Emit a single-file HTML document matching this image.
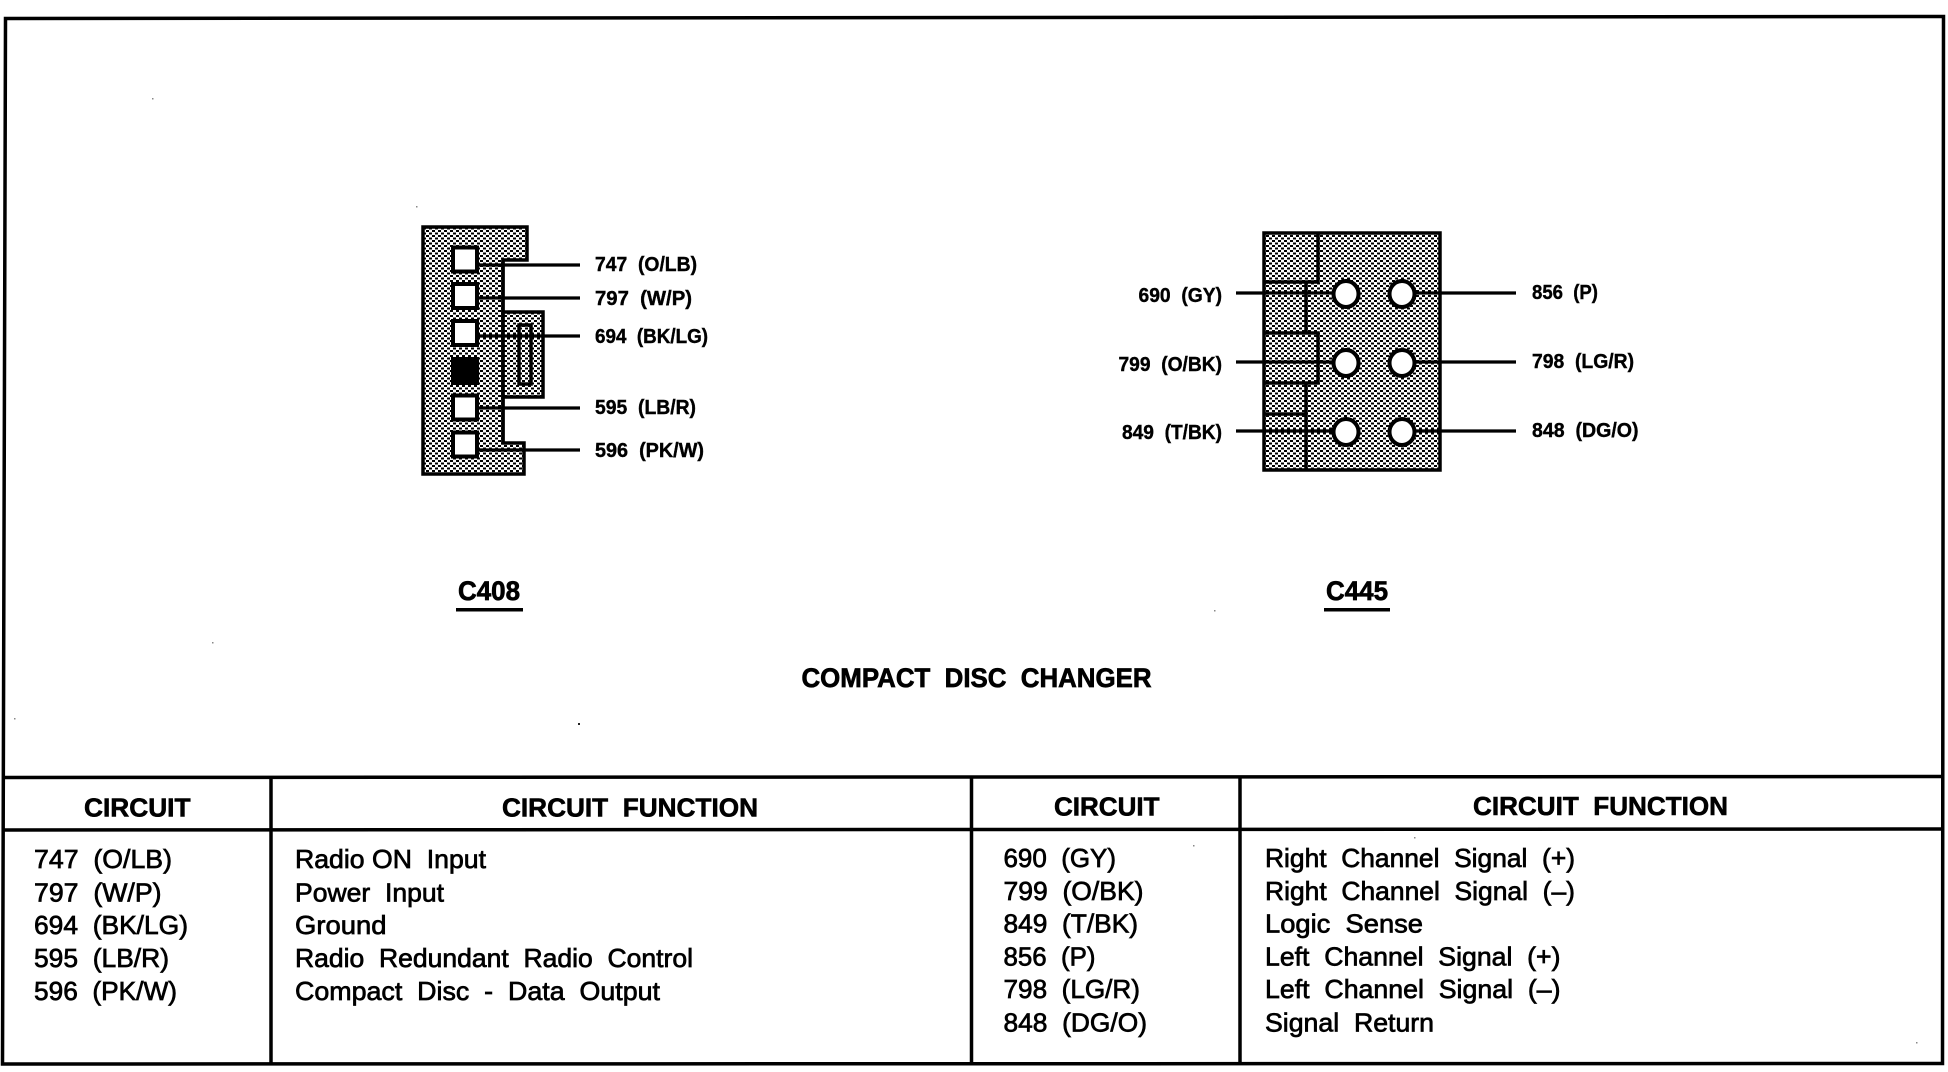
<!DOCTYPE html>
<html>
<head>
<meta charset="utf-8">
<title>Compact Disc Changer</title>
<style>
html,body{margin:0;padding:0;background:#fff;width:1948px;height:1072px;overflow:hidden}
svg{display:block}
text{font-family:"Liberation Sans",Arial,sans-serif;fill:#000;white-space:pre}
.s{font-size:20px;font-weight:bold;stroke:#000;stroke-width:.4}
.t{font-size:26px;stroke:#000;stroke-width:.7}
.h{font-size:26px;font-weight:bold;stroke:#000;stroke-width:.6}
.b{font-size:27px;font-weight:bold;stroke:#000;stroke-width:.7}
.l{stroke:#000;fill:none}
</style>
</head>
<body>
<svg xmlns="http://www.w3.org/2000/svg" width="1948" height="1072" viewBox="0 0 1948 1072">
<defs>
<pattern id="d" width="6" height="5" patternUnits="userSpaceOnUse">
<rect width="6" height="5" fill="#fff"/>
<rect x="0" y="0" width="3" height="2" fill="#000"/>
<rect x="3" y="2.5" width="3" height="2" fill="#000"/>
</pattern>
</defs>
<rect width="1948" height="1072" fill="#fff"/>

<!-- Frame -->
<path class="l" stroke-width="3.5" d="M5.5 18.5 L1943.5 16.5 L1942.5 1063.5 L2.5 1064 Z"/>
<path class="l" stroke-width="3.5" d="M3 777.5 L1943 776.5 M3 830 L1943 829 M271 777 V1064 M971.5 777 V1064 M1240 777 V1064"/>

<!-- C408 connector -->
<polygon points="423,227 527,227 527,260 503,260 503,443 524,443 524,474 423,474" fill="url(#d)" stroke="#000" stroke-width="3.5"/>
<rect x="503" y="312" width="40" height="85" fill="url(#d)" stroke="#000" stroke-width="3.5"/>
<rect x="519" y="325" width="12" height="59" fill="url(#d)" stroke="#000" stroke-width="3.5"/>
<line x1="503" y1="260" x2="503" y2="443" stroke="#000" stroke-width="3.5"/>
<g fill="#fff" stroke="#000" stroke-width="4">
<rect x="453" y="247.5" width="24" height="24"/>
<rect x="453" y="284" width="24" height="24"/>
<rect x="453" y="321" width="24" height="24"/>
<rect x="453" y="395.5" width="24" height="24"/>
<rect x="453" y="432.5" width="24" height="24"/>
</g>
<rect x="451" y="357" width="28" height="28" fill="#000"/>
<path class="l" stroke-width="3.2" d="M477 265 H580 M477 298 H580 M477 336 H580 M477 408 H580 M477 450 H580"/>
<text class="s" x="595" y="271" textLength="102" lengthAdjust="spacingAndGlyphs">747  (O/LB)</text>
<text class="s" x="595" y="305" textLength="97" lengthAdjust="spacingAndGlyphs">797  (W/P)</text>
<text class="s" x="595" y="343" textLength="113" lengthAdjust="spacingAndGlyphs">694  (BK/LG)</text>
<text class="s" x="595" y="414" textLength="101" lengthAdjust="spacingAndGlyphs">595  (LB/R)</text>
<text class="s" x="595" y="457" textLength="109" lengthAdjust="spacingAndGlyphs">596  (PK/W)</text>

<!-- C445 connector -->
<rect x="1264" y="233" width="176" height="237" fill="url(#d)" stroke="#000" stroke-width="3.5"/>
<path class="l" stroke-width="3.5" d="M1318 233 V282 H1264 M1306 282 V333 M1264 333 H1318 V383 H1264 M1306 383 V470 M1264 414 H1306"/>
<path class="l" stroke-width="3.2" d="M1236 293 H1334 M1236 362 H1334 M1236 431 H1334 M1414 293 H1516 M1414 362 H1516 M1414 431 H1516"/>
<g fill="#fff" stroke="#000" stroke-width="4">
<ellipse cx="1346" cy="294" rx="12.5" ry="13"/>
<ellipse cx="1402" cy="294" rx="12.5" ry="13"/>
<ellipse cx="1346" cy="363" rx="12.5" ry="13"/>
<ellipse cx="1402" cy="363" rx="12.5" ry="13"/>
<ellipse cx="1346" cy="432" rx="12.5" ry="13"/>
<ellipse cx="1402" cy="432" rx="12.5" ry="13"/>
</g>
<text class="s" x="1138.5" y="302" textLength="83.5" lengthAdjust="spacingAndGlyphs">690  (GY)</text>
<text class="s" x="1118.5" y="371" textLength="103.5" lengthAdjust="spacingAndGlyphs">799  (O/BK)</text>
<text class="s" x="1122" y="439" textLength="100" lengthAdjust="spacingAndGlyphs">849  (T/BK)</text>
<text class="s" x="1532" y="299" textLength="66" lengthAdjust="spacingAndGlyphs">856  (P)</text>
<text class="s" x="1532" y="368" textLength="102" lengthAdjust="spacingAndGlyphs">798  (LG/R)</text>
<text class="s" x="1532" y="437" textLength="106.5" lengthAdjust="spacingAndGlyphs">848  (DG/O)</text>

<!-- Titles -->
<text class="b" x="458" y="600" textLength="62" lengthAdjust="spacingAndGlyphs">C408</text>
<rect x="456" y="608" width="67" height="3.5" fill="#000"/>
<text class="b" x="1326" y="600" textLength="62" lengthAdjust="spacingAndGlyphs">C445</text>
<rect x="1324" y="608" width="66" height="3.5" fill="#000"/>
<text class="b" x="801.5" y="687" textLength="350" lengthAdjust="spacingAndGlyphs">COMPACT  DISC  CHANGER</text>

<!-- Table headers -->
<text class="h" x="84" y="816.5" textLength="106.5" lengthAdjust="spacingAndGlyphs">CIRCUIT</text>
<text class="h" x="502" y="816.5" textLength="256" lengthAdjust="spacingAndGlyphs">CIRCUIT  FUNCTION</text>
<text class="h" x="1054" y="815.5" textLength="105.5" lengthAdjust="spacingAndGlyphs">CIRCUIT</text>
<text class="h" x="1473" y="815" textLength="255" lengthAdjust="spacingAndGlyphs">CIRCUIT  FUNCTION</text>

<!-- Table, left -->
<text class="t" x="34" y="868" textLength="138" lengthAdjust="spacingAndGlyphs">747  (O/LB)</text>
<text class="t" x="34" y="901.5" textLength="127.5" lengthAdjust="spacingAndGlyphs">797  (W/P)</text>
<text class="t" x="34" y="934" textLength="154" lengthAdjust="spacingAndGlyphs">694  (BK/LG)</text>
<text class="t" x="34" y="967" textLength="135" lengthAdjust="spacingAndGlyphs">595  (LB/R)</text>
<text class="t" x="34" y="1000" textLength="143" lengthAdjust="spacingAndGlyphs">596  (PK/W)</text>

<text class="t" x="295" y="868" textLength="191" lengthAdjust="spacingAndGlyphs">Radio ON  Input</text>
<text class="t" x="295" y="901.5" textLength="149" lengthAdjust="spacingAndGlyphs">Power  Input</text>
<text class="t" x="295" y="934" textLength="91.5" lengthAdjust="spacingAndGlyphs">Ground</text>
<text class="t" x="295" y="967" textLength="398" lengthAdjust="spacingAndGlyphs">Radio  Redundant  Radio  Control</text>
<text class="t" x="295" y="1000" textLength="365" lengthAdjust="spacingAndGlyphs">Compact  Disc  -  Data  Output</text>

<!-- Table, right -->
<text class="t" x="1003.5" y="867" textLength="112.5" lengthAdjust="spacingAndGlyphs">690  (GY)</text>
<text class="t" x="1003.5" y="900" textLength="140" lengthAdjust="spacingAndGlyphs">799  (O/BK)</text>
<text class="t" x="1003.5" y="932.5" textLength="134.5" lengthAdjust="spacingAndGlyphs">849  (T/BK)</text>
<text class="t" x="1003.5" y="965.5" textLength="92" lengthAdjust="spacingAndGlyphs">856  (P)</text>
<text class="t" x="1003.5" y="998" textLength="136.5" lengthAdjust="spacingAndGlyphs">798  (LG/R)</text>
<text class="t" x="1003.5" y="1031.5" textLength="143.5" lengthAdjust="spacingAndGlyphs">848  (DG/O)</text>

<text class="t" x="1265" y="867" textLength="310" lengthAdjust="spacingAndGlyphs">Right  Channel  Signal  (+)</text>
<text class="t" x="1265" y="900" textLength="310" lengthAdjust="spacingAndGlyphs">Right  Channel  Signal  (–)</text>
<text class="t" x="1265" y="932.5" textLength="158" lengthAdjust="spacingAndGlyphs">Logic  Sense</text>
<text class="t" x="1265" y="965.5" textLength="295.5" lengthAdjust="spacingAndGlyphs">Left  Channel  Signal  (+)</text>
<text class="t" x="1265" y="998" textLength="295.5" lengthAdjust="spacingAndGlyphs">Left  Channel  Signal  (–)</text>
<text class="t" x="1265" y="1031.5" textLength="169" lengthAdjust="spacingAndGlyphs">Signal  Return</text>

<!-- Scan specks -->
<g fill="#888">
<rect x="152" y="98" width="1.5" height="1.5"/>
<rect x="416" y="206" width="1.5" height="1.5"/>
<rect x="212" y="642" width="1.5" height="1.5"/>
<rect x="578" y="723" width="2" height="2" fill="#222"/>
<rect x="1214" y="610" width="1.5" height="1.5"/>
<rect x="14" y="718" width="1.5" height="1.5"/>
<rect x="1193" y="845" width="1.5" height="1.5"/>
<rect x="1414" y="837" width="1.5" height="1.5"/>
<rect x="1916" y="1042" width="1.5" height="1.5"/>
</g>
</svg>
</body>
</html>
